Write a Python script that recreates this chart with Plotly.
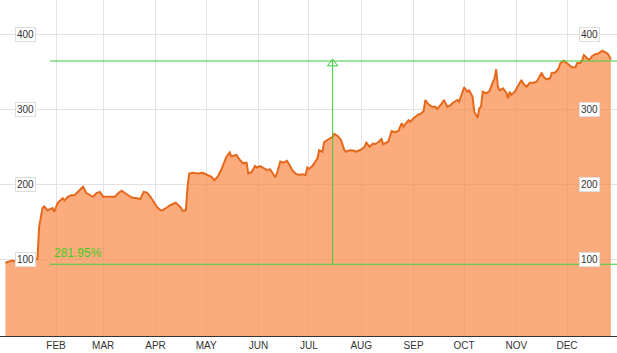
import plotly.graph_objects as go

# ---- data ----
dates = [
    "2013-01-02", "2013-01-05", "2013-01-06", "2013-01-09", "2013-01-13", "2013-01-17", "2013-01-21",
    "2013-01-22", "2013-01-24", "2013-01-25", "2013-01-27", "2013-01-30", "2013-01-31", "2013-02-02",
    "2013-02-05", "2013-02-06", "2013-02-08", "2013-02-10", "2013-02-12", "2013-02-14", "2013-02-17",
    "2013-02-19", "2013-02-21", "2013-02-23", "2013-02-25", "2013-02-27", "2013-03-01", "2013-03-03",
    "2013-03-06", "2013-03-08", "2013-03-10", "2013-03-12", "2013-03-14", "2013-03-16", "2013-03-18",
    "2013-03-21", "2013-03-23", "2013-03-25", "2013-03-27", "2013-03-29", "2013-03-31", "2013-04-02",
    "2013-04-04", "2013-04-05", "2013-04-08", "2013-04-09", "2013-04-11", "2013-04-13", "2013-04-14",
    "2013-04-16", "2013-04-17", "2013-04-19", "2013-04-20", "2013-04-21", "2013-04-23", "2013-04-26",
    "2013-04-29", "2013-05-01", "2013-05-04", "2013-05-06", "2013-05-08", "2013-05-10", "2013-05-11",
    "2013-05-13", "2013-05-15", "2013-05-16", "2013-05-19", "2013-05-21", "2013-05-23", "2013-05-25",
    "2013-05-26", "2013-05-28", "2013-05-30", "2013-05-31", "2013-06-02", "2013-06-04", "2013-06-06",
    "2013-06-08", "2013-06-10", "2013-06-11", "2013-06-12", "2013-06-14", "2013-06-16", "2013-06-18",
    "2013-06-20", "2013-06-21", "2013-06-23", "2013-06-25", "2013-06-27", "2013-06-29", "2013-06-30",
    "2013-07-01", "2013-07-03", "2013-07-06", "2013-07-07", "2013-07-09", "2013-07-10", "2013-07-12",
    "2013-07-15", "2013-07-16", "2013-07-18", "2013-07-20", "2013-07-22", "2013-07-23", "2013-07-25",
    "2013-07-28", "2013-07-29", "2013-08-01", "2013-08-03", "2013-08-04", "2013-08-06", "2013-08-08",
    "2013-08-09", "2013-08-11", "2013-08-13", "2013-08-14", "2013-08-17", "2013-08-19", "2013-08-21",
    "2013-08-23", "2013-08-25", "2013-08-26", "2013-08-29", "2013-08-30", "2013-09-01", "2013-09-04",
    "2013-09-05", "2013-09-07", "2013-09-08", "2013-09-10", "2013-09-12", "2013-09-14", "2013-09-15",
    "2013-09-17", "2013-09-19", "2013-09-21", "2013-09-23", "2013-09-24", "2013-09-27", "2013-09-28",
    "2013-09-30", "2013-10-01", "2013-10-03", "2013-10-04", "2013-10-06", "2013-10-07", "2013-10-09",
    "2013-10-10", "2013-10-11", "2013-10-12", "2013-10-14", "2013-10-16", "2013-10-17", "2013-10-19",
    "2013-10-20", "2013-10-21", "2013-10-22", "2013-10-24", "2013-10-26", "2013-10-27", "2013-10-28",
    "2013-10-29", "2013-10-31", "2013-11-02", "2013-11-04", "2013-11-05", "2013-11-07", "2013-11-09",
    "2013-11-11", "2013-11-13", "2013-11-14", "2013-11-16", "2013-11-17", "2013-11-19", "2013-11-21",
    "2013-11-22", "2013-11-24", "2013-11-26", "2013-11-27", "2013-11-29", "2013-11-30", "2013-12-02",
    "2013-12-04", "2013-12-06", "2013-12-07", "2013-12-09", "2013-12-10", "2013-12-11", "2013-12-13",
    "2013-12-14", "2013-12-16", "2013-12-18", "2013-12-19", "2013-12-22", "2013-12-23", "2013-12-25",
    "2013-12-26", "2013-12-27",
]
prices = [
    95, 97, 98, 96.5, 97, 98, 100,
    143, 168, 170, 165, 168, 163, 175,
    181, 178, 183, 185, 185, 190, 196.5,
    188, 185, 183, 188, 189.5, 183, 183,
    184, 183, 188, 191, 187.6, 185, 182,
    181, 180, 189.5, 188.5, 183, 175, 169,
    165, 165, 169, 171, 173, 175, 173,
    168.5, 164.5, 165, 196, 214, 215, 214,
    215, 213, 210, 205, 210, 219, 225.5,
    236, 242, 237, 238.7, 232, 227.6, 228.5,
    214, 216, 224, 222, 224, 221, 218.7,
    219.6, 212, 209, 214, 230, 228.5, 231,
    223, 218.7, 214, 212, 213, 212, 222,
    220, 224, 234, 245, 243, 256, 258.7,
    263, 266.7, 264, 258.7, 245, 243, 245,
    244.4, 243, 246, 249.7, 255, 249.7, 254,
    253, 255.6, 260, 253, 256.4, 270.7, 269,
    270.7, 281, 276.4, 285, 283, 287.6, 293,
    293, 297.3, 312, 306, 303, 303, 300,
    305, 312, 303, 305, 307.6, 312, 309.7,
    323, 329, 323, 325, 316.4, 296.4, 288.4,
    301, 303, 323, 321, 324, 329.7, 341,
    353, 330, 325, 327.6, 321.8, 314, 323,
    318.7, 323, 330.7, 338.7, 334, 329.7, 335,
    335, 336.4, 341, 348.4, 343, 339.6, 341,
    348.4, 348.4, 354, 361, 364.4, 362.7, 358.7,
    355.6, 355.6, 361, 361.7, 365.3, 372, 367.6,
    365.3, 370.7, 373.3, 373.3, 377.8, 376.4, 374,
    370.7, 366,
]
month_ticks = ["2013-02-01", "2013-03-01", "2013-04-01", "2013-05-01", "2013-06-01", "2013-07-01",
               "2013-08-01", "2013-09-01", "2013-10-01", "2013-11-01", "2013-12-01"]
month_labels = ["FEB", "MAR", "APR", "MAY", "JUN", "JUL", "AUG", "SEP", "OCT", "NOV", "DEC"]
y_ticks = [100, 200, 300, 400]
gain_text = "281.95%"
gain_low = 93
gain_high = 364
gain_start = "2013-01-28 10:00"
arrow_date = "2013-07-15"

x_range = ["2012-12-29 19:03", "2013-12-30 15:21"]
y_range = [-2.67, 445.33]

GREEN = "#3ccc3c"
FONT = "Arial, Liberation Sans, sans-serif"

fig = go.Figure()
# baseline for the area fill (at the bottom of the axis)
fig.add_trace(go.Scatter(x=dates, y=[y_range[0]] * len(dates), mode="lines",
                         line=dict(width=0), hoverinfo="skip", showlegend=False))
fig.add_trace(go.Scatter(x=dates, y=prices, mode="lines", fill="tonexty",
                         fillcolor="rgba(251,140,73,0.72)",
                         line=dict(color="#e5691c", width=2), showlegend=False))
# arrow head (open triangle)
fig.add_trace(go.Scatter(x=[arrow_date], y=[gain_high - 3.5], mode="markers",
                         marker=dict(symbol="triangle-up-open", size=9, color=GREEN,
                                     line=dict(width=1, color=GREEN)),
                         hoverinfo="skip", showlegend=False))

shapes = [
    dict(type="line", xref="x", yref="y", x0=gain_start, x1=x_range[1], y0=gain_high, y1=gain_high,
         line=dict(color=GREEN, width=1)),
    dict(type="line", xref="x", yref="y", x0=gain_start, x1=x_range[1], y0=gain_low, y1=gain_low,
         line=dict(color=GREEN, width=1)),
    dict(type="line", xref="x", yref="y", x0=arrow_date, x1=arrow_date, y0=gain_low, y1=gain_high,
         line=dict(color=GREEN, width=1)),
]

annotations = [dict(x=gain_start, y=108, xref="x", yref="y", text=gain_text, showarrow=False,
                    xanchor="left", yanchor="middle", xshift=2,
                    font=dict(family=FONT, size=12, color="#44cc22"))]
for v in y_ticks:
    for px in (25 / 617, 589.5 / 617):
        annotations.append(dict(x=px, y=v, xref="paper", yref="y", text=str(v), showarrow=False,
                                xanchor="center", yanchor="middle", bgcolor="white",
                                bordercolor="#dddddd", borderwidth=1, borderpad=1,
                                font=dict(family=FONT, size=10, color="#333333")))

fig.update_layout(
    width=617, height=353,
    margin=dict(l=0, r=0, t=0, b=17),
    paper_bgcolor="white", plot_bgcolor="white",
    shapes=shapes, annotations=annotations,
    showlegend=False, hovermode=False,
)
fig.update_xaxes(type="date", range=x_range, tickvals=month_ticks, ticktext=month_labels,
                 showgrid=True, gridcolor="#e3e3e3", gridwidth=1,
                 showline=True, linecolor="#333333", linewidth=1, ticks="",
                 tickfont=dict(family=FONT, size=10, color="#333333"), zeroline=False)
fig.update_yaxes(range=y_range, tickvals=y_ticks, showticklabels=False,
                 showgrid=True, gridcolor="#e3e3e3", gridwidth=1, zeroline=False, showline=False)

fig.write_html("out.html")
